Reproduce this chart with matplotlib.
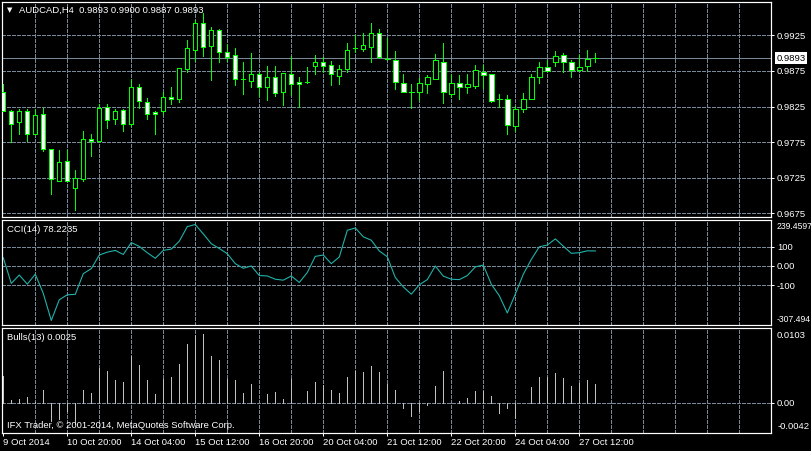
import matplotlib
matplotlib.use("Agg")
import matplotlib.pyplot as plt

# ---------------- data ----------------
symbol = "AUDCAD,H4"
opens = [0.9845, 0.9818, 0.9803, 0.9818, 0.9787, 0.9814, 0.9766, 0.9721, 0.9748, 0.9711,
         0.9723, 0.9780, 0.9776, 0.9824, 0.9807, 0.9820, 0.9801, 0.9853, 0.9832, 0.9817,
         0.9818, 0.9838, 0.9835, 0.9877, 0.9905, 0.9943, 0.9910, 0.9933, 0.9901, 0.9897,
         0.9863, 0.9861, 0.9870, 0.9852, 0.9867, 0.9846, 0.9870, 0.9859, 0.9859, 0.9882,
         0.9887, 0.9884, 0.9868, 0.9878, 0.9907, 0.9906, 0.9909, 0.9928, 0.9892, 0.9890,
         0.9858, 0.9845, 0.9845, 0.9856, 0.9864, 0.9888, 0.9843, 0.9858, 0.9852, 0.9854,
         0.9874, 0.9870, 0.9835, 0.9835, 0.9797, 0.9821, 0.9835, 0.9866, 0.9881, 0.9887,
         0.9897, 0.9887, 0.9876, 0.9882, 0.9893]
highs = [0.9857, 0.9820, 0.9821, 0.9821, 0.9822, 0.9823, 0.9766, 0.9764, 0.9764, 0.9736,
         0.9791, 0.9786, 0.9828, 0.9828, 0.9821, 0.9821, 0.9863, 0.9856, 0.9837, 0.9819,
         0.9845, 0.9852, 0.9879, 0.9918, 0.9947, 0.9956, 0.9936, 0.9934, 0.9913, 0.9907,
         0.9888, 0.9900, 0.9874, 0.9882, 0.9882, 0.9872, 0.9896, 0.9866, 0.9880, 0.9897,
         0.9894, 0.9889, 0.9883, 0.9914, 0.9925, 0.9928, 0.9942, 0.9934, 0.9921, 0.9903,
         0.9870, 0.9857, 0.9865, 0.9869, 0.9899, 0.9914, 0.9870, 0.9869, 0.9870, 0.9883,
         0.9883, 0.9870, 0.9842, 0.9841, 0.9826, 0.9844, 0.9870, 0.9888, 0.9890, 0.9903,
         0.9900, 0.9890, 0.9897, 0.9904, 0.9900]
lows = [0.9818, 0.9775, 0.9787, 0.9776, 0.9786, 0.9763, 0.9702, 0.9721, 0.9721, 0.9680,
        0.9721, 0.9756, 0.9775, 0.9795, 0.9801, 0.9791, 0.9797, 0.9823, 0.9807, 0.9787,
        0.9815, 0.9829, 0.9831, 0.9873, 0.9889, 0.9896, 0.9862, 0.9887, 0.9889, 0.9855,
        0.9843, 0.9852, 0.9840, 0.9834, 0.9840, 0.9827, 0.9841, 0.9825, 0.9858, 0.9871,
        0.9873, 0.9855, 0.9857, 0.9874, 0.9901, 0.9903, 0.9887, 0.9893, 0.9891, 0.9850,
        0.9845, 0.9823, 0.9834, 0.9844, 0.9863, 0.9830, 0.9839, 0.9836, 0.9844, 0.9851,
        0.9851, 0.9832, 0.9825, 0.9786, 0.9791, 0.9817, 0.9835, 0.9858, 0.9875, 0.9882,
        0.9874, 0.9867, 0.9875, 0.9875, 0.9887]
closes = [0.9818, 0.9801, 0.9818, 0.9787, 0.9813, 0.9765, 0.9723, 0.9747, 0.9721, 0.9725,
          0.9779, 0.9777, 0.9823, 0.9806, 0.9818, 0.9801, 0.9852, 0.9833, 0.9814, 0.9815,
          0.9838, 0.9835, 0.9879, 0.9907, 0.9942, 0.9909, 0.9933, 0.9901, 0.9895, 0.9863,
          0.9863, 0.9870, 0.9853, 0.9866, 0.9844, 0.9872, 0.9856, 0.9856, 0.9859, 0.9887,
          0.9882, 0.9870, 0.9878, 0.9905, 0.9907, 0.9911, 0.9928, 0.9894, 0.9892, 0.9859,
          0.9845, 0.9845, 0.9858, 0.9866, 0.9890, 0.9845, 0.9858, 0.9852, 0.9856, 0.9876,
          0.9869, 0.9833, 0.9835, 0.9799, 0.9821, 0.9835, 0.9866, 0.9880, 0.9875, 0.9896,
          0.9887, 0.9876, 0.9881, 0.9892, 0.9893]
cci = [43, -91, -47, -95, -43, -143, -284, -176, -150, -148,
       -40, -14, 57, 72, 81, 60, 122, 102, 69, 40,
       81, 88, 129, 205, 216, 167, 116, 91, 64, 12,
       -12, 0, -50, -52, -69, -74, -52, -86, -34, 50,
       57, 12, 47, 186, 198, 152, 134, 78, 48, -60,
       -109, -147, -98, -71, 0, -53, -69, -71, -50, -5,
       5, -95, -155, -245, -147, -43, 34, 100, 109, 141,
       103, 66, 69, 79, 78.2235]
bulls = [0.0037, 0.0003, 0.0005, 0.0008, 0.0001, 0.0017, -0.0025, -0.0023, -0.0012, -0.0029,
         0.0017, 0.0013, 0.0048, 0.0043, 0.0031, 0.0028, 0.0065, 0.0052, 0.0031, 0.0012,
         0.0032, 0.0035, 0.0053, 0.0081, 0.0094, 0.0095, 0.0064, 0.0059, 0.0032, 0.0031,
         0.0013, 0.0025, 0.0000, 0.0012, 0.0014, 0.0005, 0.0032, 0.0000, 0.0016, 0.0028,
         0.0024, 0.0018, 0.0013, 0.0036, 0.0043, 0.0042, 0.0050, 0.0042, 0.0025, 0.0018,
         -0.0008, -0.0018, -0.0012, -0.0003, 0.0023, 0.0043, 0.0000, 0.0002, 0.0006, 0.0016,
         0.0016, 0.0009, -0.0014, -0.0007, -0.0021, 0.0000, 0.0022, 0.0035, 0.0035, 0.0041,
         0.0034, 0.0023, 0.0027, 0.0031, 0.0025]
date_labels = ["9 Oct 2014", "10 Oct 20:00", "14 Oct 04:00", "15 Oct 12:00", "16 Oct 20:00",
               "20 Oct 04:00", "21 Oct 12:00", "22 Oct 20:00", "24 Oct 04:00", "27 Oct 12:00"]
date_tick_idx = [0, 8, 16, 24, 32, 40, 48, 56, 64, 72]
price_ticks = [0.9925, 0.9875, 0.9825, 0.9775, 0.9725, 0.9675]
cci_ticks = [100, 0, -100]
cci_tick_labels = ["100", "0.00", "-100"]
cci_limits = (-307.494, 239.4597)
bulls_limits = (-0.0042, 0.0103)
price_limits = (0.96691, 0.99711)
last_price = 0.9893
cci_value = 78.2235
bulls_value = 0.0025
copyright_text = "IFX Trader, \u00a9 2001-2014, MetaQuotes Software Corp."

# ---------------- style ----------------
W, H = 811, 451
FONT = "Liberation Sans"
FS = 6.8
GRID = "#778899"
LIME = "#00FF00"
PX = 0.72  # one pixel in points
THIN = 0.5  # crisp 1-px line when not antialiased

plt.rcParams["font.family"] = [FONT, "DejaVu Sans"]

fig = plt.figure(figsize=(W / 100, H / 100), dpi=100, facecolor="black")


def rect(left, top, right, bottom):
    return [left / W, 1 - bottom / H, (right - left) / W, (bottom - top) / H]


ax1 = fig.add_axes(rect(2, 2.5, 771, 217.5))
ax2 = fig.add_axes(rect(2, 220, 771, 325))
ax3 = fig.add_axes(rect(2, 328, 771, 433))

n = len(closes)
xs = list(range(n))
xlim = (-0.16, 95.96)
vgrid = list(range(4, 96, 4))
DASH = (0, (4, 2))

for ax in (ax1, ax2, ax3):
    ax.set_facecolor("black")
    ax.set_xlim(*xlim)
    for s in ax.spines.values():
        s.set_color("white")
        s.set_linewidth(PX * 1.2)
    for gx in vgrid:
        ax.axvline(gx, color=GRID, lw=PX, ls=DASH, zorder=0.5, antialiased=False)
    ax.tick_params(axis="x", bottom=False, labelbottom=False)
    ax.yaxis.tick_right()
    ax.tick_params(axis="y", colors="white", labelcolor="white", labelsize=FS,
                   length=3 * PX, width=PX, pad=2.2, direction="out")

# ---- main candle chart ----
ax1.set_ylim(*price_limits)
for p in price_ticks:
    ax1.axhline(p, color=GRID, lw=PX, ls=DASH, zorder=0.5, antialiased=False)
ax1.set_yticks(price_ticks)
ax1.set_yticklabels([f"{p:.4f}" for p in price_ticks])

body_bottom = [min(o, c) for o, c in zip(opens, closes)]
body_height = [abs(c - o) for o, c in zip(opens, closes)]
body_color = ["white" if c < o else "black" for o, c in zip(opens, closes)]
ax1.vlines(xs, lows, highs, color=LIME, lw=THIN, zorder=2, antialiased=False)
ax1.bar(xs, body_height, bottom=body_bottom, width=0.55, color=body_color,
        edgecolor=LIME, linewidth=THIN, zorder=3, antialiased=False)

ax1.axhline(last_price, color=GRID, lw=THIN, zorder=1, antialiased=False)
ax1.annotate(f"{last_price:.4f}", xy=(1, last_price), xycoords=("axes fraction", "data"),
             xytext=(4.0, 0), textcoords="offset points", ha="left", va="center",
             fontsize=FS, color="black",
             bbox=dict(boxstyle="square,pad=0.15", fc="white", ec="none"),
             annotation_clip=False)

# ---- CCI ----
ax2.set_ylim(*cci_limits)
for v in cci_ticks:
    ax2.axhline(v, color=GRID, lw=PX, ls=DASH, zorder=0.5, antialiased=False)
ax2.plot(xs, cci, color="#20B2AA", lw=0.8, zorder=2)
ax2.set_yticks(cci_ticks)
ax2.set_yticklabels(cci_tick_labels)
ax2.annotate(f"{cci_limits[1]:.4f}", xy=(1, 1), xycoords="axes fraction",
             xytext=(4.0, -5.0), textcoords="offset points", ha="left", va="center",
             fontsize=FS - 0.6, color="white", annotation_clip=False)
ax2.annotate(f"{cci_limits[0]:.3f}", xy=(1, 0), xycoords="axes fraction",
             xytext=(4.0, 4.3), textcoords="offset points", ha="left", va="center",
             fontsize=FS - 0.6, color="white", annotation_clip=False)

# ---- Bulls Power ----
ax3.set_ylim(*bulls_limits)
ax3.axhline(0, color=GRID, lw=PX, ls=DASH, zorder=0.5, antialiased=False)
ax3.vlines(xs, 0, bulls, color="#C0C0C0", lw=THIN, zorder=2, antialiased=False)
ax3.set_yticks([0])
ax3.set_yticklabels(["0.00"])
ax3.annotate(f"{bulls_limits[1]:.4f}", xy=(1, 1), xycoords="axes fraction",
             xytext=(4.4, -5.3), textcoords="offset points", ha="left", va="center",
             fontsize=FS, color="white", annotation_clip=False)
ax3.annotate(f"{bulls_limits[0]:.4f}", xy=(1, 0), xycoords="axes fraction",
             xytext=(4.4, 5.0), textcoords="offset points", ha="left", va="center",
             fontsize=FS, color="white", annotation_clip=False)

ax3.tick_params(axis="x", bottom=True, labelbottom=True, colors="white",
                labelcolor="white", labelsize=FS, length=3 * PX, width=PX, pad=1.5)
ax3.set_xticks(date_tick_idx)
ax3.set_xticklabels(date_labels)
for lbl in ax3.get_xticklabels():
    lbl.set_horizontalalignment("left")

# ---- header texts ----
fig.text(9.3 / W, 1 - 10.3 / H, "\u25bc", color="white", fontsize=5,
         family="DejaVu Sans", ha="center", va="center")
ohlc_text = f"{symbol}  {opens[-1]:.4f} {highs[-1]:.4f} {lows[-1]:.4f} {closes[-1]:.4f}"
fig.text(19 / W, 1 - 10.7 / H, ohlc_text, color="white", fontsize=FS, ha="left", va="center")
fig.text(7.3 / W, 1 - 229 / H, f"CCI(14) {cci_value:.4f}", color="white", fontsize=FS,
         ha="left", va="center")
fig.text(7.3 / W, 1 - 337.7 / H, f"Bulls(13) {bulls_value:.4f}", color="white", fontsize=FS,
         ha="left", va="center")
fig.text(7.3 / W, 1 - 425 / H, copyright_text, color="white", fontsize=FS,
         ha="left", va="center")

fig.savefig("out.png", dpi=100, facecolor="black")
